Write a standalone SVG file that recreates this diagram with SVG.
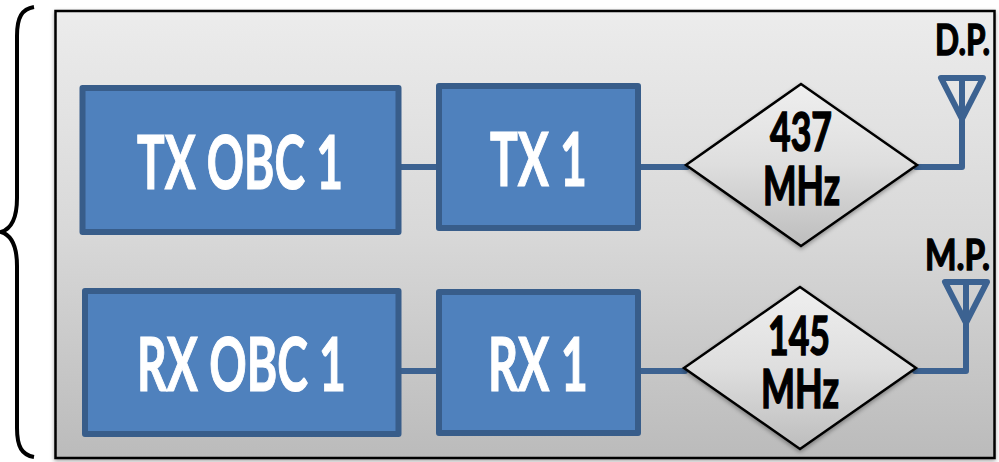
<svg xmlns="http://www.w3.org/2000/svg" width="999" height="462" viewBox="0 0 999 462">
<style>
.box{fill:#4f81bd;stroke:#385d8a;stroke-width:6;stroke-linejoin:round}
.wire{fill:none;stroke:#3c6291;stroke-width:6;stroke-linejoin:round;stroke-linecap:round}
.dia{fill:url(#dg);stroke:#000;stroke-width:2.5;stroke-linejoin:miter;filter:url(#sh)}
text{font-family:Lato,"Liberation Sans",sans-serif;font-weight:700;text-anchor:start}
.w{fill:#fff;stroke:#fff;stroke-width:1.2;font-size:75px}
.k{fill:#000;stroke:#000;stroke-width:1.2;font-size:42px}
.s{fill:#000;stroke:#000;stroke-width:1;font-size:30px}
</style>
<defs>
<linearGradient id="bg" x1="0" y1="0" x2="0" y2="1"><stop offset="0" stop-color="#ececec"/><stop offset="0.5" stop-color="#d8d8d8"/><stop offset="1" stop-color="#bbbbbb"/></linearGradient>
<linearGradient id="dg" x1="0" y1="0" x2="0" y2="1"><stop offset="0" stop-color="#efefef"/><stop offset="0.5" stop-color="#dedede"/><stop offset="1" stop-color="#bdbdbd"/></linearGradient>
<filter id="sh" x="-10%" y="-10%" width="120%" height="120%"><feDropShadow dx="0" dy="2" stdDeviation="2" flood-color="#000" flood-opacity="0.35"/></filter>
</defs>
<g id="brace"><path d="M34 7C22 9 17 17 17 36V198C17 218 11 229 1 232C11 235 17 246 17 266V428C17 447 22 455 34 457" fill="none" stroke="#000" stroke-width="4"/></g>
<g id="panel"><rect x="55.500" y="11" width="939" height="447" fill="url(#bg)" stroke="#000" stroke-width="2.500" filter="url(#sh)"/></g>
<g id="connectors">
<path class="wire" d="M399 167H436"/>
<path class="wire" d="M640 167H687"/>
<path class="wire" d="M916 167H962V122"/>
<path class="wire" d="M399 371H436"/>
<path class="wire" d="M640 371H685"/>
<path class="wire" d="M915 371H966V325"/>
</g>
<g id="tx-obc"><rect class="box" x="82.500" y="88" width="316" height="144"/><text class="w" x="137" y="189" textLength="206" lengthAdjust="spacingAndGlyphs">TX OBC 1</text></g>
<g id="rx-obc"><rect class="box" x="85" y="291" width="313.500" height="143"/><text class="w" x="137" y="391" textLength="209" lengthAdjust="spacingAndGlyphs">RX OBC 1</text></g>
<g id="tx1"><rect class="box" x="439" y="86" width="199" height="142"/><text class="w" x="490" y="186" textLength="97" lengthAdjust="spacingAndGlyphs">TX 1</text></g>
<g id="rx1"><rect class="box" x="439" y="292" width="199" height="141"/><text class="w" x="488" y="391" textLength="100" lengthAdjust="spacingAndGlyphs">RX 1</text></g>
<g id="d437"><polygon class="dia" points="686,165 801,84 917,165 801,246"/><text class="k" transform="translate(770 151) scale(1 1.29)" textLength="62" lengthAdjust="spacingAndGlyphs">437</text><text class="k" transform="translate(763 205) scale(1 1.29)" textLength="77" lengthAdjust="spacingAndGlyphs">MHz</text></g>
<g id="d145"><polygon class="dia" points="684,368 800,287 916,368 800,449"/><text class="k" transform="translate(768 355) scale(1 1.29)" textLength="62" lengthAdjust="spacingAndGlyphs">145</text><text class="k" transform="translate(761 408) scale(1 1.29)" textLength="78" lengthAdjust="spacingAndGlyphs">MHz</text></g>
<g id="ant-dp"><path class="wire" d="M941 78H983L962 119ZM962 78V122"/><text class="s" transform="translate(935 55) scale(1 1.37)" textLength="55" lengthAdjust="spacingAndGlyphs">D.P.</text></g>
<g id="ant-mp"><path class="wire" d="M945 282H987L966 323ZM966 282V325"/><text class="s" transform="translate(925 270) scale(1 1.37)" textLength="65" lengthAdjust="spacingAndGlyphs">M.P.</text></g>
</svg>
